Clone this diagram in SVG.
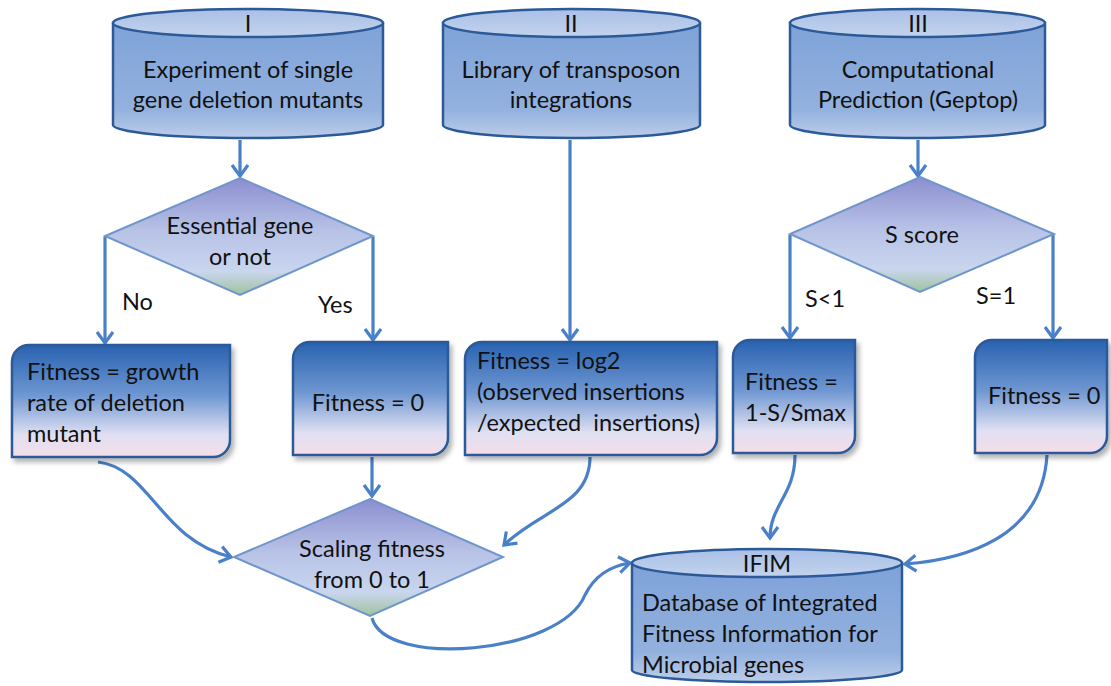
<svg xmlns="http://www.w3.org/2000/svg" width="1111" height="686" viewBox="0 0 1111 686">
<style>
text{font-family:Lato,"Open Sans","Liberation Sans",sans-serif;font-size:23.5px;fill:#111;text-anchor:middle;white-space:pre}
.cylb{fill:url(#cylBody);stroke:#2c5a98;stroke-width:2.5}
.cylt{fill:url(#cylTop);stroke:#2c5a98;stroke-width:2.5}
.box{fill:url(#boxGrad);stroke:#2c5a98;stroke-width:2.5;filter:url(#sh)}
.dia{fill:url(#diaGrad);stroke:#6f95cc;stroke-width:2}
.con{fill:none;stroke:#4a80c8;stroke-width:3.2;marker-end:url(#arr)}
.lbl{text-anchor:start}
</style>
<defs>
<linearGradient id="cylBody" x1="0" y1="0" x2="0" y2="1">
<stop offset="0" stop-color="#7ea2d8"/><stop offset="0.75" stop-color="#93b1de"/><stop offset="1" stop-color="#bccdea"/>
</linearGradient>
<linearGradient id="cylTop" x1="0" y1="0" x2="0" y2="1">
<stop offset="0" stop-color="#a9c0e6"/><stop offset="1" stop-color="#c3d3ee"/>
</linearGradient>
<linearGradient id="boxGrad" x1="0" y1="0" x2="0" y2="1">
<stop offset="0" stop-color="#2862b0"/><stop offset="0.45" stop-color="#6f97d2"/><stop offset="0.8" stop-color="#dfe0f2"/><stop offset="1" stop-color="#f6dde8"/>
</linearGradient>
<linearGradient id="diaGrad" x1="0" y1="0" x2="0" y2="1">
<stop offset="0" stop-color="#8c8ed0"/><stop offset="0.45" stop-color="#b7c2e6"/><stop offset="0.8" stop-color="#c9d6ee"/><stop offset="1" stop-color="#9fc29d"/>
</linearGradient>
<filter id="sh" x="-10%" y="-10%" width="125%" height="130%">
<feDropShadow dx="3" dy="4" stdDeviation="2.5" flood-color="#000" flood-opacity="0.3"/>
</filter>
<marker id="arr" markerUnits="userSpaceOnUse" markerWidth="24" markerHeight="24" viewBox="-14 -12 18 24" refX="0" refY="0" orient="auto">
<path d="M-11,-8 L0,0 L-11,8" fill="none" stroke="#4a80c8" stroke-width="3.2" stroke-linejoin="miter"/>
</marker>
</defs>

<g id="connectors">
<path class="con" d="M240,140 L240,176"/>
<path class="con" d="M105,237 L105,343"/>
<path class="con" d="M373,237 L373,340"/>
<path class="con" d="M570,140 L570,340"/>
<path class="con" d="M918,140 L918,176"/>
<path class="con" d="M790,235 L790,338"/>
<path class="con" d="M1053,235 L1053,338"/>
<path class="con" d="M372,457 L372,496"/>
<path class="con" d="M98,462 C150,468 160,540 231,557"/>
<path class="con" d="M590,457 C590,505 540,510 504,545"/>
<path class="con" d="M372,618 C385,668 560,655 585,595 C595,575 610,566 630,563"/>
<path class="con" d="M795,455 C795,495 770,505 770,538"/>
<path class="con" d="M1047,455 C1042,540 960,560 905,564"/>
</g>

<g id="cyl-I">
<path class="cylb" d="M113,23 L113,125 A135,13 0 0 0 383,125 L383,23 Z"/>
<ellipse class="cylt" cx="248" cy="23" rx="135" ry="14"/>
<text x="248" y="32">I</text>
<text x="248" y="78">Experiment of single</text>
<text x="248" y="108">gene deletion mutants</text>
</g>
<g id="cyl-II">
<path class="cylb" d="M443,23 L443,125 A128.5,13 0 0 0 700,125 L700,23 Z"/>
<ellipse class="cylt" cx="571.5" cy="23" rx="128.5" ry="14"/>
<text x="571" y="32">II</text>
<text x="571" y="78">Library of transposon</text>
<text x="571" y="108">integrations</text>
</g>
<g id="cyl-III">
<path class="cylb" d="M790,23 L790,125 A127.5,13 0 0 0 1045,125 L1045,23 Z"/>
<ellipse class="cylt" cx="917.5" cy="23" rx="127.5" ry="14"/>
<text x="918" y="32">III</text>
<text x="918" y="78">Computational</text>
<text x="918" y="108">Prediction (Geptop)</text>
</g>

<g id="dia-essential">
<path class="dia" d="M240,178 L373,236 L240,295 L105,236 Z"/>
<text x="240" y="234">Essential gene</text>
<text x="240" y="265">or not</text>
</g>
<g id="dia-sscore">
<path class="dia" d="M920,177 L1054,234 L920,292 L790,234 Z"/>
<text x="922" y="243">S score</text>
</g>

<text class="lbl" x="122" y="310">No</text>
<text class="lbl" x="318" y="313">Yes</text>
<text class="lbl" x="805" y="307">S&lt;1</text>
<text class="lbl" x="976" y="304">S=1</text>

<g id="box-growth">
<path class="box" d="M12,362 A17,17 0 0 1 29,345 L230,345 L230,440 A17,17 0 0 1 213,457 L12,457 Z"/>
<text class="lbl" x="27" y="380">Fitness = growth</text>
<text class="lbl" x="27" y="411">rate of deletion</text>
<text class="lbl" x="27" y="442">mutant</text>
</g>
<g id="box-zero1">
<path class="box" d="M293,359 A17,17 0 0 1 310,342 L448,342 L448,438 A17,17 0 0 1 431,455 L293,455 Z"/>
<text x="368" y="411">Fitness = 0</text>
</g>
<g id="box-log2">
<path class="box" d="M465,359 A17,17 0 0 1 482,342 L717,342 L717,438 A17,17 0 0 1 700,455 L465,455 Z"/>
<text class="lbl" x="477" y="369">Fitness = log2</text>
<text class="lbl" x="477" y="400">(observed insertions</text>
<text class="lbl" x="477" y="431">/expected  insertions)</text>
</g>
<g id="box-smax">
<path class="box" d="M733,357 A17,17 0 0 1 750,340 L855,340 L855,436 A17,17 0 0 1 838,453 L733,453 Z"/>
<text class="lbl" x="745" y="390">Fitness =</text>
<text class="lbl" x="745" y="421">1-S/Smax</text>
</g>
<g id="box-zero2">
<path class="box" d="M975,357 A17,17 0 0 1 992,340 L1107,340 L1107,436 A17,17 0 0 1 1090,453 L975,453 Z"/>
<text class="lbl" x="988" y="404">Fitness = 0</text>
</g>

<g id="dia-scaling">
<path class="dia" d="M370,499 L503,557 L370,616 L234,557 Z"/>
<text x="372" y="557">Scaling fitness</text>
<text x="372" y="588">from 0 to 1</text>
</g>

<g id="cyl-IFIM">
<path class="cylb" d="M632,563 L632,670 A135,12 0 0 0 902,670 L902,563 Z"/>
<ellipse class="cylt" cx="767" cy="563" rx="135" ry="14"/>
<text x="767" y="572">IFIM</text>
<text class="lbl" x="642" y="611">Database of Integrated</text>
<text class="lbl" x="642" y="642">Fitness Information for</text>
<text class="lbl" x="642" y="673">Microbial genes</text>
</g>
</svg>
